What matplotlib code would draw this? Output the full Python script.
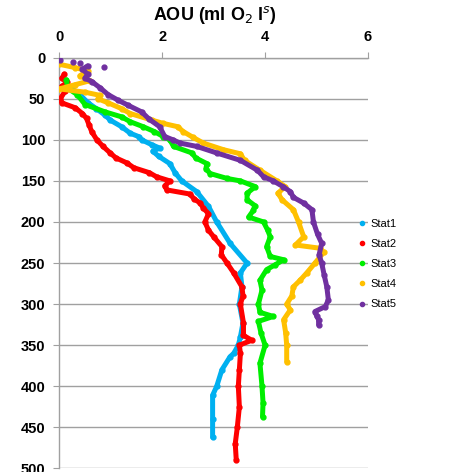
import matplotlib
matplotlib.use("Agg")
import matplotlib.pyplot as plt
from matplotlib.lines import Line2D

# ---------------- data ----------------
series_names = ["Stat1", "Stat2", "Stat3", "Stat4", "Stat5"]
series_colors = ["#00B0F0", "#FF0000", "#00EE00", "#FFC000", "#7030A0"]

stat1_depth = [37, 45, 55, 62, 70, 76, 84, 92, 96, 100, 106, 110, 114, 120, 129, 140, 150,
               163, 181, 200, 226, 250, 262, 279, 300, 323, 340, 350, 360, 364, 380, 400,
               411, 440, 462]
stat1_aou = [0.23, 0.40, 0.56, 0.72, 0.89, 0.99, 1.21, 1.38, 1.54, 1.60, 1.80, 1.95, 1.82,
             1.93, 2.15, 2.25, 2.38, 2.67, 2.90, 3.06, 3.32, 3.65, 3.52, 3.55, 3.50, 3.57,
             3.52, 3.48, 3.39, 3.32, 3.16, 3.06, 2.98, 2.98, 2.98]

stat2_depth = [20, 25, 30, 35, 40, 50, 55, 61, 68, 74, 82, 90, 100, 108, 116, 122, 128, 134,
               140, 145, 150, 156, 161, 166, 172, 177, 183, 190, 200, 210, 218, 230, 240,
               250, 262, 279, 290, 300, 323, 338, 344, 350, 360, 380, 400, 425, 450, 470, 490]
stat2_aou = [0.10, 0.05, 0.15, 0.05, 0.12, 0.02, 0.05, 0.31, 0.45, 0.53, 0.58, 0.63, 0.73,
             0.85, 0.99, 1.10, 1.31, 1.45, 1.75, 1.89, 2.15, 2.05, 2.09, 2.54, 2.62, 2.74,
             2.80, 2.90, 2.83, 2.90, 3.00, 3.16, 3.15, 3.26, 3.39, 3.55, 3.57, 3.52, 3.58,
             3.58, 3.74, 3.50, 3.52, 3.50, 3.48, 3.50, 3.46, 3.42, 3.44]

stat3_depth = [27, 37, 45, 57, 66, 72, 78, 84, 90, 96, 100, 108, 116, 122, 129, 135, 141,
               147, 150, 157, 165, 173, 180, 186, 194, 200, 210, 218, 230, 242, 246, 252,
               258, 271, 283, 300, 310, 315, 321, 335, 350, 372, 400, 420, 437]
stat3_aou = [0.14, 0.16, 0.35, 0.50, 0.89, 1.21, 1.38, 1.63, 1.85, 2.02, 2.15, 2.22, 2.58,
             2.65, 2.87, 2.85, 2.93, 3.26, 3.52, 3.81, 3.65, 3.65, 3.80, 3.77, 3.68, 3.97,
             4.05, 4.10, 4.03, 4.10, 4.36, 4.20, 4.03, 3.90, 3.94, 3.87, 3.90, 4.16, 3.87,
             3.92, 4.00, 3.90, 3.94, 3.96, 3.95]

stat4_depth = [8, 12, 16, 22, 28, 33, 38, 42, 46, 50, 55, 62, 68, 76, 80, 84, 90, 97, 104,
               112, 117, 125, 137, 150, 157, 165, 173, 185, 200, 218, 228, 232, 237, 250,
               262, 271, 279, 290, 300, 307, 319, 335, 350, 370]
stat4_aou = [0.00, 0.30, 0.55, 0.40, 0.60, 0.30, 0.00, 0.50, 0.80, 0.75, 0.95, 1.21, 1.38,
             1.80, 2.02, 2.30, 2.41, 2.60, 2.80, 3.19, 3.52, 3.60, 3.90, 4.23, 4.39, 4.25,
             4.33, 4.55, 4.65, 4.75, 4.59, 5.07, 5.14, 4.97, 4.81, 4.68, 4.55, 4.52, 4.42,
             4.49, 4.36, 4.40, 4.42, 4.42]

stat5_top_depth = [3, 5, 6, 11]
stat5_top_aou = [0.01, 0.27, 0.40, 0.86]
stat5_depth = [10, 14, 20, 25, 29, 37, 45, 52, 58, 66, 75, 84, 96, 100, 104, 108, 116, 125,
               137, 145, 150, 157, 163, 170, 177, 185, 200, 215, 226, 240, 250, 265, 279,
               295, 303, 309, 314, 319, 325]
stat5_aou = [0.55, 0.45, 0.55, 0.50, 0.63, 0.80, 0.95, 1.15, 1.34, 1.60, 1.75, 1.95, 2.05,
             2.21, 2.35, 2.67, 3.06, 3.52, 3.85, 3.97, 4.16, 4.35, 4.49, 4.55, 4.75, 4.91,
             4.94, 5.02, 5.10, 5.05, 5.10, 5.15, 5.20, 5.23, 5.17, 4.97, 5.00, 5.04, 5.04]

x_ticks = [0, 2, 4, 6]
y_ticks = [0, 50, 100, 150, 200, 250, 300, 350, 400, 450, 500]
title_text = "AOU (ml O$_2$ l$^{s}$)"

# ---------------- figure ----------------
plt.rcParams['font.family'] = ['Liberation Sans', 'DejaVu Sans']
fig = plt.figure(figsize=(4.56, 4.72), dpi=100)
ax = fig.add_axes([0.130, 0.0076, 0.677, 0.8702])

all_depths = [stat1_depth, stat2_depth, stat3_depth, stat4_depth, stat5_depth]
all_aou = [stat1_aou, stat2_aou, stat3_aou, stat4_aou, stat5_aou]
for d, x, c in zip(all_depths, all_aou, series_colors):
    ax.plot(x, d, color=c, lw=3.6, marker='o', ms=3.5, solid_joinstyle='round',
            solid_capstyle='round', zorder=3)
ax.plot(stat5_top_aou, stat5_top_depth, linestyle='none', marker='o', ms=3.5,
        color=series_colors[4], zorder=3)

ax.set_xlim(0, 6)
ax.set_ylim(500, 0)
ax.xaxis.tick_top()
ax.set_xticks(x_ticks)
ax.set_yticks(y_ticks)
ax.set_xticklabels([str(v) for v in x_ticks], fontsize=10.5, fontweight='bold')
ax.set_yticklabels([str(v) for v in y_ticks], fontsize=10.5, fontweight='bold')
ax.tick_params(axis='x', direction='out', length=4, color='#A0A0A0', pad=6)
ax.tick_params(axis='y', direction='out', length=4, color='#A0A0A0', pad=6)
ax.grid(axis='y', color='#A0A0A0', lw=1.0, zorder=0)
ax.set_axisbelow(True)
for s in ['right', 'bottom']:
    ax.spines[s].set_visible(False)
for s in ['left', 'top']:
    ax.spines[s].set_color('#A0A0A0')
    ax.spines[s].set_linewidth(1.0)

fig.text(0.472, 0.968, title_text, ha='center', va='center', fontsize=13,
         fontweight='bold')

handles = [Line2D([], [], linestyle='none', marker='o', ms=3, color=c)
           for c in series_colors]
leg = fig.legend(handles, series_names, loc='center left',
                 bbox_to_anchor=(0.785, 0.4407), frameon=False, fontsize=8,
                 handlelength=0.8, handletextpad=0.3, labelspacing=0.92,
                 borderpad=0, borderaxespad=0)

fig.savefig("out.png", dpi=100)
